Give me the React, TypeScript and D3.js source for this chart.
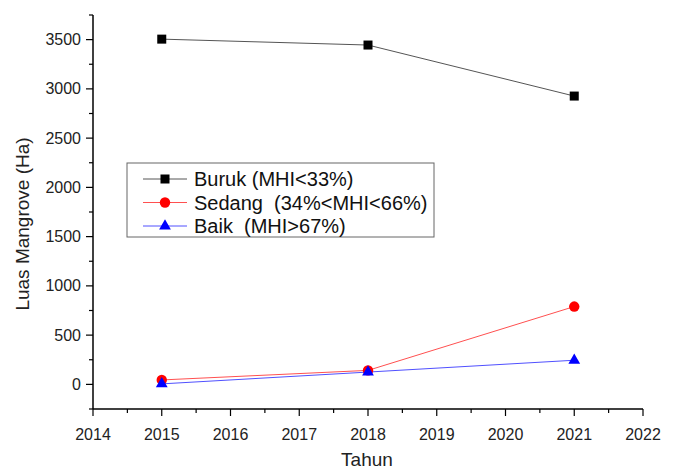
import React from "react";
import * as d3 from "d3";

const years = [2015, 2018, 2021];
const buruk = [3505, 3445, 2927];
const sedang = [45, 142, 790];
const baik = [5, 125, 245];
const xTicks = [2014, 2015, 2016, 2017, 2018, 2019, 2020, 2021, 2022];
const yTicks = [0, 500, 1000, 1500, 2000, 2500, 3000, 3500];
const legendLabels = ["Buruk (MHI<33%)", "Sedang  (34%<MHI<66%)", "Baik  (MHI>67%)"];

const W = 673, H = 469;
const left = 93, right = 643, top = 15, bottom = 409;
const font = "'Liberation Sans', Arial, sans-serif";

export default function App() {
  const x = d3.scaleLinear().domain([2014, 2022]).range([left, right]);
  const y = d3.scaleLinear().domain([-250, 3750]).range([bottom, top]);
  const line = d3.line<[number, number]>().x(d => x(d[0])).y(d => y(d[1]));
  const series = [
    { vals: buruk, color: "#000", lineColor: "#555", shape: "square" },
    { vals: sedang, color: "#ff0000", lineColor: "#ff5050", shape: "circle" },
    { vals: baik, color: "#0000ff", lineColor: "#5050ff", shape: "triangle" },
  ];
  const marker = (shape: string, cx: number, cy: number, color: string, key: any) => {
    if (shape === "square") return <rect key={key} x={cx - 4.5} y={cy - 4.5} width={9} height={9} fill={color} />;
    if (shape === "circle") return <circle key={key} cx={cx} cy={cy} r={5.2} fill={color} />;
    const s = d3.symbol().type(d3.symbolTriangle).size(60)();
    return <path key={key} d={s || ""} transform={`translate(${cx},${cy})`} fill={color} />;
  };
  const minorX = d3.range(2014.5, 2022, 1);
  const minorY = d3.range(-250, 3751, 500);
  return (
    <svg width={W} height={H} style={{ position: "absolute", left: 0, top: 0 }} fontFamily={font}>
      <rect width={W} height={H} fill="#fff" />
      {series.map((s, i) => (
        <path key={"l" + i} d={line(years.map((yr, j) => [yr, s.vals[j]]) as [number, number][]) || ""} fill="none" stroke={s.lineColor} strokeWidth={1} />
      ))}
      {series.map((s, i) => years.map((yr, j) => marker(s.shape, x(yr), y(s.vals[j]), s.color, `m${i}-${j}`)))}
      {/* axes */}
      <line x1={left} x2={left} y1={top} y2={bottom} stroke="#000" strokeWidth={1.5} />
      <line x1={left} x2={right} y1={bottom} y2={bottom} stroke="#000" strokeWidth={1.5} />
      {yTicks.map(t => (
        <g key={"yt" + t}>
          <line x1={left - 7} x2={left} y1={y(t)} y2={y(t)} stroke="#000" strokeWidth={1.2} />
          <text x={left - 12} y={y(t)} dy="0.35em" textAnchor="end" fontSize={16} fill="#222">{t}</text>
        </g>
      ))}
      {minorY.map(t => (
        <line key={"ym" + t} x1={left - 4} x2={left} y1={y(t)} y2={y(t)} stroke="#000" strokeWidth={1.2} />
      ))}
      {xTicks.map(t => (
        <g key={"xt" + t}>
          <line x1={x(t)} x2={x(t)} y1={bottom} y2={bottom + 7} stroke="#000" strokeWidth={1.2} />
          <text x={x(t)} y={434} dy="0.35em" textAnchor="middle" fontSize={16} fill="#222">{t}</text>
        </g>
      ))}
      {minorX.map(t => (
        <line key={"xm" + t} x1={x(t)} x2={x(t)} y1={bottom} y2={bottom + 4} stroke="#000" strokeWidth={1.2} />
      ))}
      <text x={367} y={459} dy="0.35em" textAnchor="middle" fontSize={19} fill="#222">Tahun</text>
      <text transform={`translate(22,224) rotate(-90)`} dy="0.35em" textAnchor="middle" fontSize={19} fill="#222">Luas Mangrove (Ha)</text>
      {/* legend */}
      <rect x={127} y={163} width={307} height={74} fill="#fff" stroke="#666" strokeWidth={1} />
      {series.map((s, i) => {
        const ly = 179 + i * 23.5;
        return (
          <g key={"lg" + i}>
            <line x1={143} x2={187} y1={ly} y2={ly} stroke={s.lineColor} strokeWidth={1} />
            {marker(s.shape, 165, ly, s.color, "lm" + i)}
            <text x={194} y={ly} dy="0.35em" fontSize={20} fill="#111" style={{ whiteSpace: "pre" }}>{legendLabels[i]}</text>
          </g>
        );
      })}
    </svg>
  );
}
